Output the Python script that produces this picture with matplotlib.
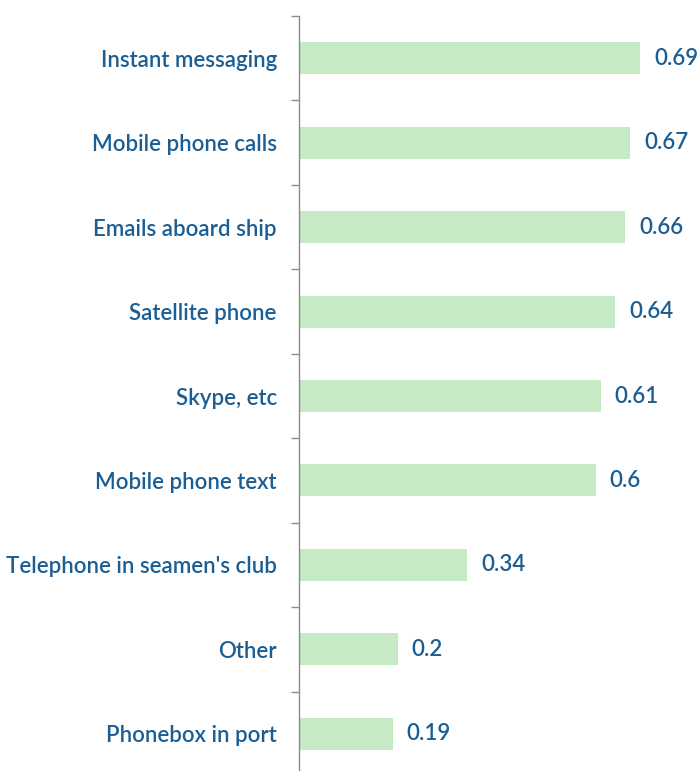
import matplotlib
matplotlib.use('Agg')
import matplotlib.pyplot as plt
import numpy as np

# 各通信方式的使用比例
categories = [
    'Instant messaging',
    'Mobile phone calls',
    'Emails aboard ship',
    'Satellite phone',
    'Skype, etc',
    'Mobile phone text',
    "Telephone in seamen's club",
    'Other',
    'Phonebox in port',
]
values = [0.69, 0.67, 0.66, 0.64, 0.61, 0.6, 0.34, 0.2, 0.19]
value_labels = ['0.69', '0.67', '0.66', '0.64', '0.61', '0.6', '0.34', '0.2', '0.19']

BAR_COLOR = '#c6e9c6'
TEXT_COLOR = '#1b5e94'
AXIS_COLOR = '#8c8c8c'

plt.rcParams['font.family'] = ['Lato', 'DejaVu Sans']

fig = plt.figure(figsize=(7.0, 7.71), dpi=100)
ax = fig.add_axes([299 / 700, (771 - 776) / 771, 401 / 700, 760 / 771])

y = np.arange(len(categories))
ax.barh(y, values, height=0.38, color=BAR_COLOR, edgecolor='none')

for yi, v, lab in zip(y, values, value_labels):
    ax.text(v + 0.028, yi, lab, va='center', ha='left',
            fontsize=16, color=TEXT_COLOR, fontweight='semibold')

ax.set_xlim(0, 401 / 494.5)
ax.set_ylim(len(categories) - 0.5, -0.5)

ax.set_yticks(y)
ax.set_yticklabels(categories, fontsize=16, color=TEXT_COLOR, fontweight='semibold')
ax.set_yticks(np.arange(-0.5, len(categories), 1), minor=True)
ax.tick_params(axis='y', which='major', length=0, pad=16)
ax.tick_params(axis='y', which='minor', length=6, width=1, color=AXIS_COLOR, direction='out')
ax.set_xticks([])

for side in ['top', 'right', 'bottom']:
    ax.spines[side].set_visible(False)
ax.spines['left'].set_color(AXIS_COLOR)
ax.spines['left'].set_linewidth(1)

fig.savefig('out.png', dpi=100)
